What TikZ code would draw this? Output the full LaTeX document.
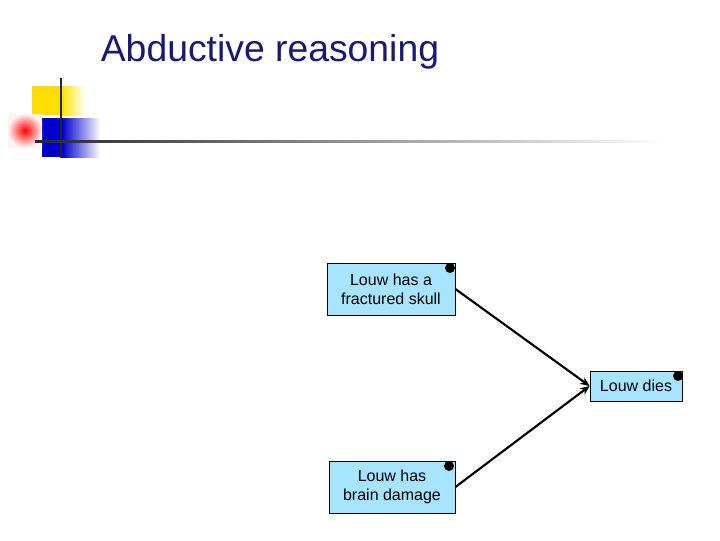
\documentclass[tikz,border=0pt]{standalone}
\usepackage{fontspec}
\setmainfont{Liberation Sans}
\usetikzlibrary{arrows.meta}

\begin{document}
\begin{tikzpicture}[
            x = 0.75pt, y = -0.75pt, % pixel grid of the slide
            > = {Stealth[length=7pt,width=6pt]}, % arrow head style
            semithick
        ]

        \tikzstyle{claim}=[
            draw = black,
            fill = blue!30!cyan!35,
            align = center,
            font = \fontsize{12}{14}\selectfont,
            inner sep = 0pt
        ]
        \tikzstyle{pin}=[fill = black, circle, inner sep = 0pt, minimum size = 7.5pt]

        \useasboundingbox (0,0) rectangle (720,540);

        % title and corner decoration
        \node[anchor = west, text = blue!40!black!90, font = \fontsize{28}{32}\selectfont] (title) at (96,52) {Abductive reasoning};
        \fill[yellow!80!orange] (32,86) rectangle (62,115);
        \shade[left color = yellow!80!orange, right color = white] (62,86) rectangle (85,115);
        \fill[blue!80!black] (42,118) rectangle (75,157);
        \shade[left color = blue!80!black, right color = white] (62,118) rectangle (100,157);
        \shade[inner color = red, outer color = red!5] (8,114) rectangle (42,147);
        \draw[line width = 2pt, black!85] (61,78) -- (61,158);
        \shade[left color = black!85, right color = white] (35,140) rectangle (665,142.5);

        % argument
        \node[claim, minimum width = 96pt, minimum height = 39pt] (skull) at (391,289) {Louw has a\\fractured skull};
        \node[claim, minimum width = 94.5pt, minimum height = 39pt] (brain) at (392,487) {Louw has\\brain damage};
        \node[claim, minimum width = 69pt, minimum height = 22.5pt] (dies) at (636,386) {Louw dies};
        \node[pin] (p1) at (450,268) {};
        \node[pin] (p2) at (449,466) {};
        \node[pin] (p3) at (678,376) {};

        \draw[->, line width = 1.6pt] (skull.east) -- (dies.west);
        \draw[->, line width = 1.6pt] (brain.east) -- (dies.west);
     \end{tikzpicture}
\end{document}
